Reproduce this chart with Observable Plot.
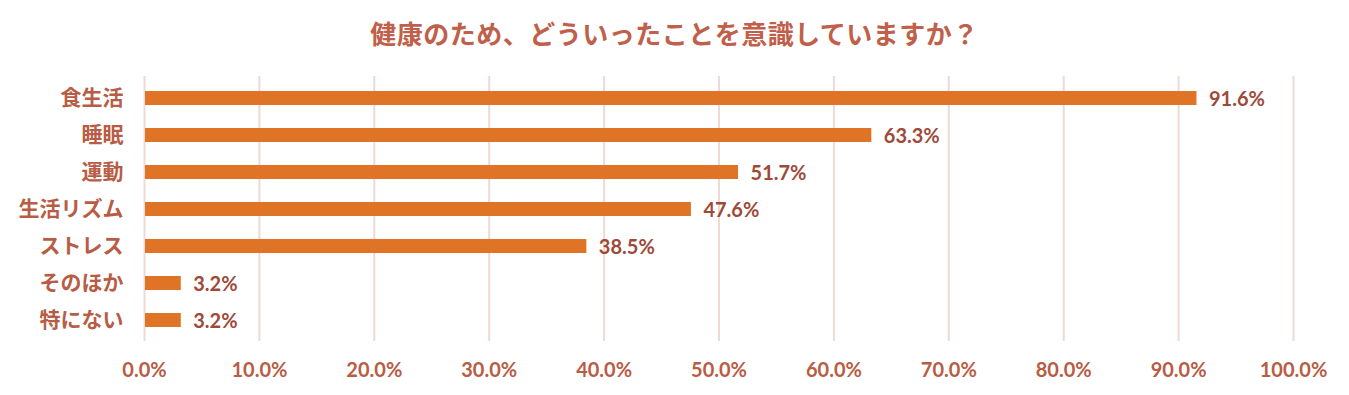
<!DOCTYPE html>
<html><head><meta charset="utf-8">
<script src="https://cdn.jsdelivr.net/npm/d3@7"></script>
<script src="https://cdn.jsdelivr.net/npm/@observablehq/plot@0.6"></script>
<style>
body{margin:0;background:#fff;}
#title{height:60px;box-sizing:border-box;padding-top:17px;text-align:center;font-family:"Noto Sans CJK JP";font-weight:bold;font-size:26px;line-height:32px;color:#C0604A;letter-spacing:0.5px;}
#chart svg{display:block;}
</style>
</head><body>
<div id="title">健康のため、どういったことを意識していますか？</div>
<div id="chart"></div>
<script>
const categories = ["食生活","睡眠","運動","生活リズム","ストレス","そのほか","特にない"];
const values = [91.6, 63.3, 51.7, 47.6, 38.5, 3.2, 3.2];
const xTicks = [0,10,20,30,40,50,60,70,80,90,100];
const data = categories.map((c,i)=>({cat:c, v:values[i]}));

const chart = Plot.plot({
  width: 1349, height: 335,
  marginTop: 16, marginBottom: 54, marginLeft: 144, marginRight: 56,
  style: {background: "#fff"},
  x: {domain:[0,100], ticks: xTicks, grid: false},
  y: {domain: categories, paddingInner: 0.63, paddingOuter: 0.315},
  marks: [
    Plot.ruleX(xTicks, {x: d=>d, stroke: "#EFD9D4", strokeWidth: 2}),
    Plot.barX(data, {y: "cat", x: "v", fill: "#E07426", insetLeft: 1}),
    Plot.text(data, {y: "cat", x: "v", text: d=>d.v.toFixed(1)+"%", textAnchor: "start", dx: 12, dy: 1, fill: "#9E4A3A", fontFamily: "Lato", fontWeight: "bold", fontSize: 20}),
    Plot.axisX({ticks: xTicks, tickSize: 0, tickPadding: 21, tickFormat: d=>d.toFixed(1)+"%", fontFamily:"Lato", fontWeight:"bold", fontSize: 20, color:"#B85C45", label: null}),
    Plot.axisY({tickSize: 0, tickPadding: 21, fontFamily:"Noto Sans CJK JP", fontWeight:"bold", fontSize: 21, color:"#B85C45", label: null})
  ]
});
document.getElementById("chart").appendChild(chart);
</script>
</body></html>
